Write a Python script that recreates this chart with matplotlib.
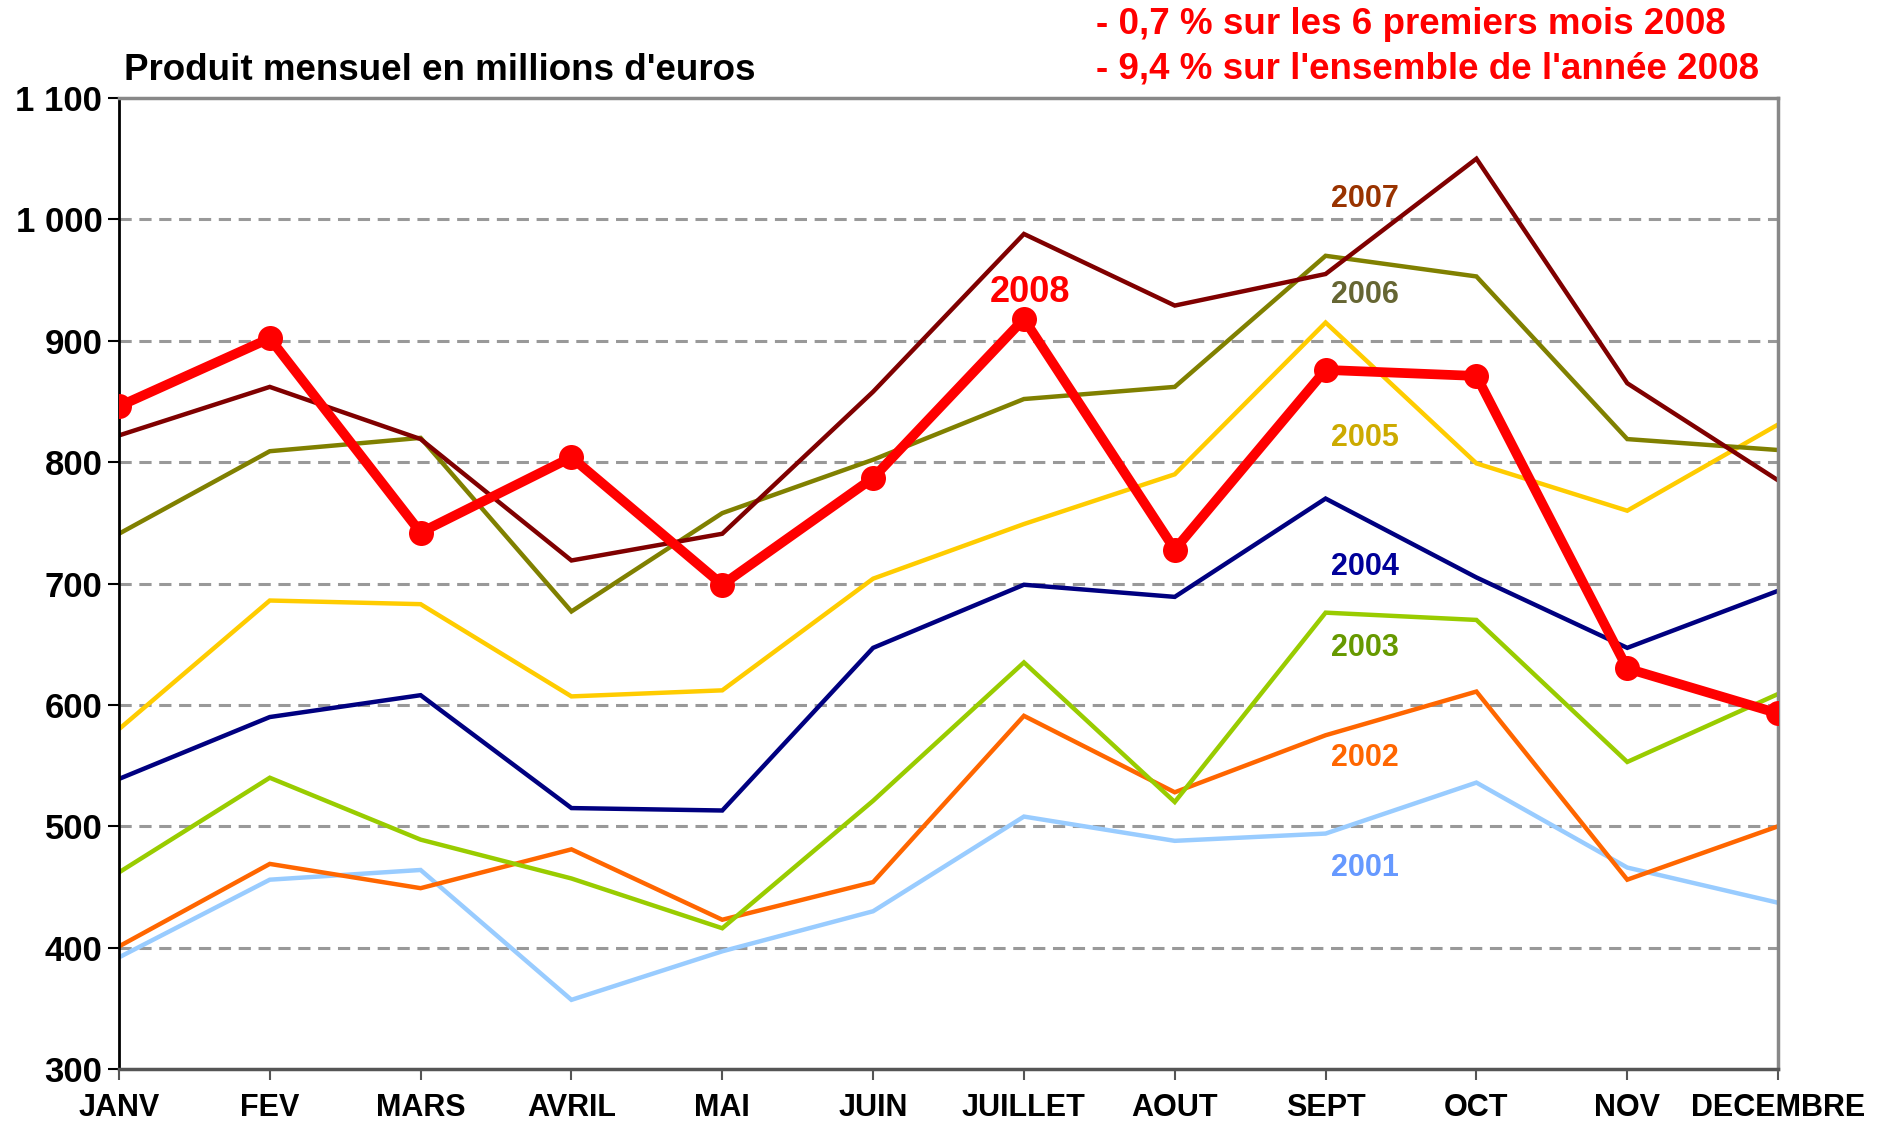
import matplotlib
matplotlib.use("Agg")
import matplotlib.pyplot as plt

plt.rcParams['font.family'] = ['Liberation Sans Narrow', 'Liberation Sans', 'DejaVu Sans']
plt.rcParams['font.weight'] = 'bold'

# Data (millions d'euros)
months = ["JANV", "FEV", "MARS", "AVRIL", "MAI", "JUIN", "JUILLET",
          "AOUT", "SEPT", "OCT", "NOV", "DECEMBRE"]

y2001 = [392, 456, 464, 357, 397, 430, 508, 488, 494, 536, 466, 437]
y2002 = [401, 469, 449, 481, 423, 454, 591, 528, 575, 611, 456, 500]
y2003 = [462, 540, 489, 457, 416, 521, 635, 520, 676, 670, 553, 609]
y2004 = [539, 590, 608, 515, 513, 647, 699, 689, 770, 705, 647, 694]
y2005 = [580, 686, 683, 607, 612, 704, 749, 790, 915, 799, 760, 831]
y2006 = [741, 809, 820, 677, 758, 802, 852, 862, 970, 953, 819, 810]
y2007 = [822, 862, 819, 719, 741, 858, 988, 929, 955, 1050, 865, 785]
y2008 = [846, 902, 742, 804, 699, 787, 918, 728, 876, 871, 630, 593]

years = ["2001", "2002", "2003", "2004", "2005", "2006", "2007"]
series = [y2001, y2002, y2003, y2004, y2005, y2006, y2007]
line_colors = ["#99CCFF", "#FF6600", "#99CC00", "#000080", "#FFCC00", "#808000", "#800000"]
label_colors = ["#6699FF", "#FF6600", "#669900", "#000099", "#CCAA00", "#666633", "#993300"]
label_values = [466, 556, 647, 714, 820, 938, 1017]

yticks = [300, 400, 500, 600, 700, 800, 900, 1000, 1100]
ytick_labels = ["300", "400", "500", "600", "700", "800", "900", "1 000", "1 100"]

fig = plt.figure(figsize=(18.94, 11.24), dpi=100)
ax = fig.add_axes([0.0628, 0.0489, 0.876, 0.8639])

x = list(range(len(months)))

# grid lines
for v in yticks[1:-1]:
    ax.axhline(v, color="#999999", lw=2.2, ls=(0, (4, 2.5)), zorder=1)

for vals, c in zip(series, line_colors):
    ax.plot(x, vals, color=c, lw=3.2, solid_joinstyle="miter", zorder=2)

ax.plot(x, y2008, color="#FF0000", lw=7, marker="o", markersize=18,
        markeredgewidth=0, zorder=3)

# year labels
for yr, v, c in zip(years, label_values, label_colors):
    ax.text(8.26, v, yr, color=c, fontsize=22, ha="center", va="center",
            fontweight="bold")
ax.text(6.04, 940, "2008", color="#FF0000", fontsize=26, ha="center",
        va="center", fontweight="bold")

ax.set_xlim(0, 11)
ax.set_ylim(300, 1100)
ax.set_xticks(x)
ax.set_xticklabels(months, fontsize=22, fontweight="bold")
ax.set_yticks(yticks)
ax.set_yticklabels(ytick_labels, fontsize=25, fontweight="bold")
ax.tick_params(axis="y", length=8, width=1.5, pad=4)
ax.tick_params(axis="x", length=8, width=1.5, pad=9, color="#555555")

ax.spines["left"].set_color("black")
ax.spines["left"].set_linewidth(2)
ax.spines["bottom"].set_color("#555555")
ax.spines["bottom"].set_linewidth(2.5)
ax.spines["top"].set_color("#888888")
ax.spines["top"].set_linewidth(2.5)
ax.spines["right"].set_color("#888888")
ax.spines["right"].set_linewidth(2.5)

fig.text(124 / 1894, 1 - 71 / 1124, "Produit mensuel en millions d'euros",
         fontsize=26.5, fontweight="bold", ha="left", va="center")
fig.text(1096 / 1894, 1 - 24 / 1124, "- 0,7 % sur les 6 premiers mois 2008",
         fontsize=26.5, fontweight="bold", color="#FF0000", ha="left", va="center")
fig.text(1096 / 1894, 1 - 69 / 1124, "- 9,4 % sur l'ensemble de l'année 2008",
         fontsize=26.5, fontweight="bold", color="#FF0000", ha="left", va="center")

fig.savefig("out.png", dpi=100)
